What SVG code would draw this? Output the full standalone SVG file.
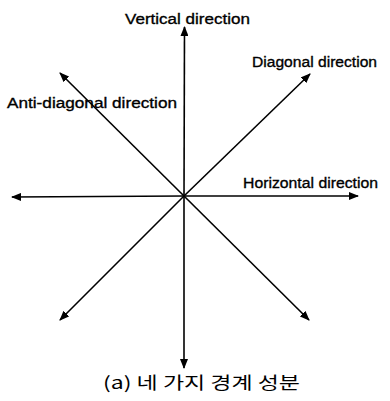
<svg xmlns="http://www.w3.org/2000/svg" width="390" height="401" viewBox="0 0 390 401">
<defs>
<marker id="ah" markerUnits="userSpaceOnUse" markerWidth="10" markerHeight="8" refX="9" refY="4" orient="auto">
<path d="M0,0 L10,4 L0,8 Z" fill="#000"/>
</marker>
<style>
.ln{stroke:#000;stroke-width:1.6;fill:none;marker-end:url(#ah)}
.lb{font-family:"Liberation Sans",Arial,sans-serif;font-size:15.5px;fill:#000;stroke:#000;stroke-width:0.35}
.cap{font-family:"Noto Sans CJK KR","Noto Sans",sans-serif;font-size:17px;fill:#000}
</style>
</defs>
<rect width="390" height="401" fill="#fff"/>
<g id="connectors">
<line class="ln" x1="184" y1="196" x2="184.5" y2="27"/>
<line class="ln" x1="184" y1="196" x2="184" y2="368"/>
<line class="ln" x1="184" y1="196" x2="12" y2="197"/>
<line class="ln" x1="184" y1="196" x2="358" y2="196"/>
<line class="ln" x1="184" y1="196" x2="310" y2="74"/>
<line class="ln" x1="184" y1="196" x2="60" y2="320"/>
<line class="ln" x1="184" y1="196" x2="60" y2="73"/>
<line class="ln" x1="184" y1="196" x2="309" y2="320"/>
</g>
<g id="vertical"><text class="lb" x="125" y="24" textLength="125" lengthAdjust="spacingAndGlyphs">Vertical direction</text></g>
<g id="diagonal"><text class="lb" x="252" y="67" textLength="125" lengthAdjust="spacingAndGlyphs">Diagonal direction</text></g>
<g id="anti-diagonal"><text class="lb" x="7" y="108" textLength="170" lengthAdjust="spacingAndGlyphs">Anti-diagonal direction</text></g>
<g id="horizontal"><text class="lb" x="243" y="188" textLength="135" lengthAdjust="spacingAndGlyphs">Horizontal direction</text></g>
<g id="caption"><text class="cap" x="103" y="389" textLength="197" lengthAdjust="spacingAndGlyphs">(a) 네 가지 경계 성분</text></g>
</svg>
